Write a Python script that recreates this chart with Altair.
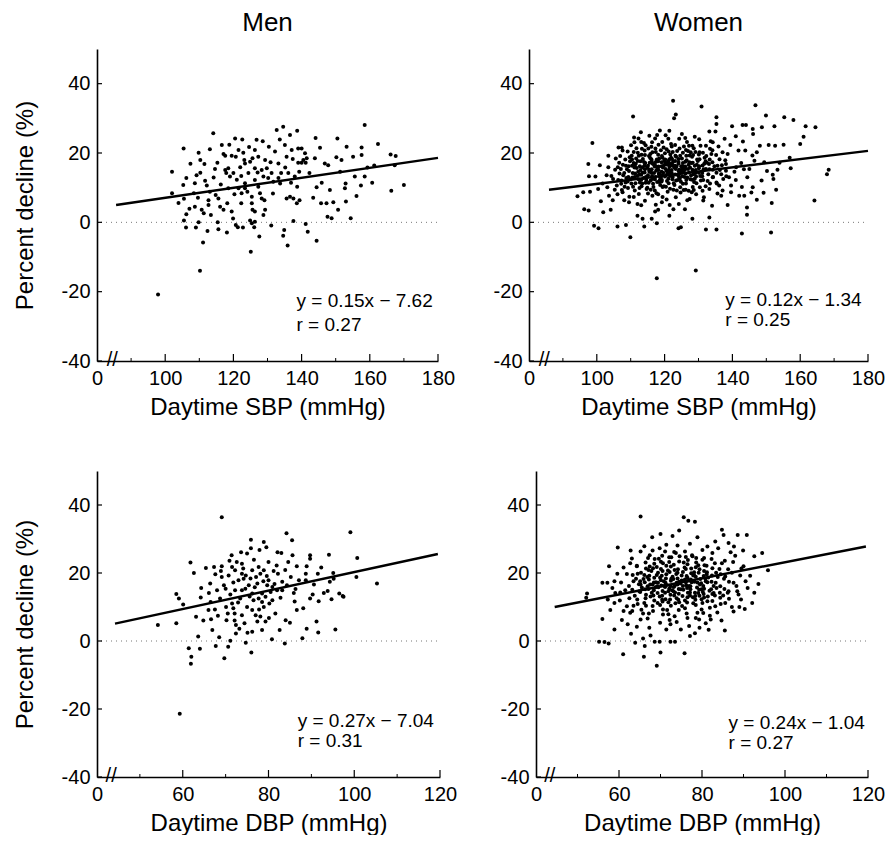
import altair as alt
import pandas as pd

FONT = "Liberation Sans"

# ---------------- data ----------------
men_sbp = [(97.9,-20.8),(110.2,-14.0),(102.0,14.6),(105.4,21.3),(102.0,8.4),(105.3,10.8),(106.2,12.8),(105.5,6.8),(106.2,2.3),(105.5,0.5),(106.1,-1.5),(109.0,-1.5),(109.8,20.1),(110.3,18.0),(111.5,16.8),(108.7,11.3),(108.4,8.4),(109.6,7.1),(108.7,4.5),(110.7,3.6),(111.3,2.6),(109.8,0.0),(111.1,-5.8),(112.4,-2.5),(109.2,13.6),(110.3,14.3),(111.7,12.0),(113.1,8.8),(114.1,25.7),(116.6,22.3),(117.1,19.7),(117.6,15.1),(114.2,12.9),(114.8,7.9),(113.4,2.1),(115.4,0.0),(115.6,-2.0),(116.1,4.5),(117.1,3.6),(118.2,5.5),(118.5,9.8),(119.0,13.2),(119.5,3.1),(120.5,24.2),(120.7,18.9),(121.5,20.9),(122.0,15.9),(122.3,13.4),(122.6,23.9),(123.2,18.0),(123.4,11.3),(124.1,8.8),(120.7,-0.8),(121.3,-1.4),(122.8,-1.5),(122.3,5.5),(124.9,0.5),(125.4,-0.3),(126.1,-1.4),(125.1,-8.5),(125.4,5.5),(125.6,3.6),(126.8,23.8),(126.3,20.9),(125.6,18.5),(126.3,15.6),(126.3,12.2),(127.3,10.3),(127.8,8.4),(128.3,6.9),(128.8,13.2),(129.3,18.0),(129.8,15.6),(130.4,21.8),(131.2,14.2),(131.7,11.7),(132.2,20.4),(132.7,26.6),(133.2,17.0),(134.0,14.2),(128.8,2.1),(129.1,6.4),(134.6,27.6),(135.1,22.3),(135.6,18.9),(136.1,14.2),(136.6,25.2),(137.1,20.9),(137.4,18.3),(138.0,13.2),(138.7,26.4),(138.7,10.3),(137.6,6.9),(138.6,5.5),(139.4,6.4),(135.6,6.9),(136.6,7.4),(134.9,-2.2),(134.6,-3.9),(135.9,-6.7),(137.6,0.4),(140.0,21.3),(141.0,19.9),(141.2,17.2),(140.0,17.2),(141.2,-0.5),(141.8,-2.7),(144.4,-5.3),(143.4,7.1),(144.4,10.1),(143.9,18.5),(145.4,21.5),(145.9,11.4),(145.7,5.5),(147.3,5.5),(147.6,1.6),(148.8,1.2),(149.3,5.8),(146.8,17.0),(147.8,16.5),(150.5,24.2),(150.2,18.8),(151.7,18.0),(150.7,3.6),(152.7,9.8),(152.9,11.2),(153.0,6.0),(153.2,21.8),(154.4,1.2),(155.1,18.9),(155.6,13.2),(157.6,21.6),(157.6,19.4),(157.4,10.6),(158.5,28.1),(158.5,13.2),(159.3,15.8),(160.7,11.4),(162.4,22.6),(166.1,19.6),(167.6,19.1),(167.3,16.5),(166.3,9.1),(170.0,10.8),(117.6,19.2),(119.5,19.2),(120.0,14.2),(121.0,12.3),(123.4,17.0),(124.4,14.2),(124.9,17.5),(127.3,18.9),(128.3,15.1),(130.2,12.8),(133.2,12.8),(133.7,11.2),(123.4,9.8),(122.4,8.4),(118.5,15.6),(112.7,6.4),(112.7,5.0),(115.6,6.9),(121.5,9.8),(139.0,21.3),(139.0,17.2),(140.5,18.0),(141.5,18.5),(117.9,14.2),(125.4,7.4),(129.3,3.6),(126.3,3.1),(126.3,0.2),
    (112.2,10.6),(114.6,15.4),(116.3,10.9),(118.8,22.4),(120.3,8.1),(122.9,20.1),(124.6,21.7),(127.1,14.4),(128.6,23.4),(130.9,17.3),(131.6,8.3),(133.6,23.9),(135.2,15.8),(136.9,11.4),(139.3,14.6),(142.3,14.2),(144.1,24.3),(115.3,17.2),(113.1,21.1),(107.4,16.9),(107.1,3.9),(103.9,5.6),(119.9,1.1),(118.1,-2.9),(131.1,-0.9),(127.6,-4.1),(148.3,9.3),(151.3,14.6),(156.1,7.6),(161.3,16.4)]

women_sbp = [(122.5,35.1),(130.9,33.4),(146.8,33.8),(110.7,30.5),(123.3,31.1),(122.8,30.0),(135.3,30.3),(135.3,28.4),(149.9,30.8),(155.3,30.3),(158.0,29.5),(161.6,27.7),(164.5,27.4),(152.4,27.7),(148.7,27.4),(146.0,26.9),(143.0,28.1),(144.0,28.1),(139.9,27.7),(135.0,26.2),(133.2,26.2),(141.0,24.8),(146.1,25.5),(161.0,24.7),(160.0,22.6),(150.7,22.3),(152.6,22.1),(98.7,22.9),(103.4,19.2),(97.5,16.8),(100.9,16.5),(97.7,13.3),(94.3,7.5),(96.0,8.7),(98.0,8.8),(96.3,3.8),(97.6,3.4),(99.2,-1.0),(100.5,-1.7),(101.2,6.1),(101.9,2.9),(104.1,3.6),(106.1,-1.2),(108.6,-0.8),(109.9,-4.3),(114.0,-1.2),(117.7,-0.3),(117.7,-16.1),(129.2,-13.9),(124.1,-1.7),(124.8,-1.4),(132.2,-2.1),(135.3,-2.1),(142.8,-3.2),(151.4,-2.9),(144.3,2.2),(144.3,4.3),(151.6,5.6),(164.2,6.3),(167.9,13.9),(168.4,15.2),(157.2,15.6),(153.3,15.2),(151.9,13.7),(152.1,12.5),(152.9,9.4),(149.2,8.5),(147.2,6.5),(143.5,7.7),(142.0,7.7),(138.6,5.0),(139.6,8.7),(141.0,12.2),(139.0,13.0),(137.3,12.5),(136.7,7.7),(134.0,4.8),(133.2,1.4),(131.4,6.3),(128.2,1.0),(128.0,8.7),(126.7,6.4),(126.0,3.8),(122.6,3.8),(121.5,5.0),(121.4,1.9),(119.2,5.8),(117.2,3.1),(116.2,1.0),(113.5,1.0),(112.0,1.9),(112.0,5.3),(109.5,5.8),(107.6,8.7),(105.3,9.4),(103.1,10.1),(104.8,12.5),(146.0,10.1),(146.5,17.8),(147.2,20.2),(143.8,20.7),(145.0,15.4),(144.4,13.0),(141.8,20.7),(138.6,19.7),(138.1,16.8),(135.6,16.3),(134.2,23.1),(132.2,22.1),(130.2,24.0),(128.2,22.1),(125.1,25.5),(121.4,26.4),(117.8,25.2),(115.5,25.0),(113.0,26.0),(111.0,24.5),(106.4,21.6),(107.6,20.7),(103.4,15.9),(138.1,14.9),(140.6,14.6),(136.1,10.6),(133.2,9.6),(134.2,13.0),(135.3,11.5),
    (106.3,12.2),(107.1,15.4),(108.4,18.1),(108.2,10.3),(109.3,13.1),(109.1,20.4),(110.2,11.2),(110.4,16.3),(110.1,22.2),(111.3,14.1),(111.6,18.4),(111.2,9.2),(112.3,12.4),(112.1,20.1),(112.7,16.2),(113.2,10.4),(113.4,14.3),(113.1,23.2),(114.3,17.1),(114.6,12.2),(114.2,19.4),(115.1,8.3),(115.4,15.2),(115.2,21.3),(116.3,13.4),(116.1,18.2),(116.6,11.1),(117.2,16.4),(117.4,20.3),(117.1,9.2),(118.3,14.1),(118.2,22.4),(118.6,12.3),(119.1,17.3),(119.4,10.2),(119.2,19.1),(120.3,15.4),(120.1,13.2),(120.6,21.1),(121.2,11.3),(121.4,18.2),(121.1,24.1),(122.3,16.3),(122.1,14.2),(122.6,9.4),(123.2,19.2),(123.4,12.1),(123.1,22.3),(124.3,15.2),(124.1,17.4),(124.6,10.1),(125.2,13.3),(125.4,20.1),(125.1,18.4),(126.3,11.2),(126.1,16.1),(126.6,23.2),(127.2,14.4),(127.4,19.3),(127.1,9.1),(128.3,17.2),(128.1,12.3),(128.6,21.4),(129.2,15.1),(129.4,11.3),(130.3,18.2),(130.1,14.3),(130.6,22.1),(131.2,16.4),(131.4,12.2),(132.3,19.1),(132.1,10.4),(133.2,15.3),(133.4,21.2),(134.3,13.1),(134.1,17.3),(135.2,19.4),(135.4,11.2),(136.3,15.1),(137.1,20.2),(138.2,13.3),(106.6,17.2),(107.4,9.3),(108.1,14.2),(109.6,7.4),(110.3,19.2),(111.1,23.1),(112.4,8.2),(113.6,18.3),(114.1,14.4),(115.3,11.4),(116.4,20.2),(116.2,15.3),(117.3,13.1),(118.4,18.4),(118.1,8.1),(119.3,23.2),(119.6,14.3),(120.2,18.1),(120.4,10.3),(121.3,15.2),(121.6,13.4),(122.4,20.3),(122.2,18.3),(123.3,15.4),(123.6,9.2),(124.2,13.2),(124.4,21.3),(125.3,16.2),(125.6,9.3),(126.2,14.1),(126.4,19.2),(127.3,17.3),(127.6,12.4),(128.2,15.2),(128.4,19.4),(129.3,13.2),(129.1,20.3),(130.2,16.2),(130.4,10.1),(131.3,20.1),(131.1,14.2),(132.2,15.4),(133.3,18.1),(134.2,15.2),(135.3,14.3),(136.2,18.2),(120.3,25.1),(117.2,24.2),(124.3,24.1),(113.3,21.2),(110.6,14.2),(108.6,16.3),(105.4,15.2),(104.3,13.4),(107.3,12.1),(115.6,17.2),(118.2,16.1),(121.2,20.4),(124.6,19.2),(127.2,22.1),(130.3,20.2),(116.3,23.1),(114.4,22.2),(119.2,12.2),(122.3,12.4),(125.4,11.1),(128.3,10.2),(111.4,11.3),(109.4,16.2),(126.2,9.4),(123.3,7.2),(119.4,7.3),(114.2,6.2),(117.4,5.1),(131.2,9.1),(133.4,11.2),(129.3,8.1),
    (107.8,13.6),(109.8,17.6),(111.8,15.7),(113.8,12.8),(115.8,19.7),(117.8,11.6),(119.8,16.5),(121.8,16.9),(123.8,13.7),(125.8,15.1),(127.8,13.5),(129.8,17.7),(131.8,18.6),(133.8,19.7),(112.9,17.6),(116.9,16.6),(120.9,17.2),(124.9,14.6),(128.9,16.3),(118.9,20.8),(122.9,10.8),(126.9,20.6),(114.9,10.0),(110.9,20.3),(106.9,19.1),(105.9,10.6),(136.9,16.5),(132.9,13.9),(135.9,21.9),(137.9,17.9),
    (108.5,11.5),(109.5,14.8),(110.5,12.9),(111.5,16.9),(112.5,13.7),(113.5,15.9),(114.5,13.1),(115.5,14.6),(116.5,16.9),(117.5,14.9),(118.5,13.3),(119.5,15.8),(120.5,16.7),(121.5,14.4),(122.5,17.5),(123.5,16.1),(124.5,12.6),(125.5,14.7),(126.5,17.9),(127.5,15.8),(128.5,13.9),(129.5,16.6),(130.5,13.4),(131.5,15.3),(132.5,17.2),(113.2,19.5),(115.7,18.6),(117.7,18.1),(119.7,21.6),(121.7,19.6),(123.7,20.6),(125.7,21.9),(127.7,20.2),(111.7,21.4),(109.7,18.8),(107.7,16.6),(106.7,14.1),(108.7,12.8),(110.7,10.3),(112.7,11.5),(114.7,9.6),(116.7,10.2),(118.7,10.8),(120.7,11.9),(122.7,11.3),(124.7,8.6),(126.7,12.9),(128.7,11.6),(130.7,12.1),(132.7,11.9),(134.7,16.2),(136.7,13.9),(116.4,7.7),(120.6,6.6),(113.1,4.9),(110.9,7.3),(127.4,6.7),(124.2,5.3),(118.1,3.6),(106.1,8.1),(104.7,6.4),(102.9,13.6),(101.7,11.2),(105.6,18.4),(107.4,21.6),(112.3,24.2),(118.6,26.5),(126.1,24.3),(128.9,24.7),(133.6,23.4),(139.4,22.3),(137.7,24.1),(142.6,17.1),(141.1,15.9),(143.4,15.3),(139.6,10.6),(137.1,9.2),(142.8,10.2),(145.6,8.6),(148.6,12.1),(149.4,17.3),(148.1,22.1),(155.1,22.4),(156.9,18.6),(153.9,17.2),(150.2,14.8),(145.9,19.3),(143.1,23.3),(114.1,16.4),(116.1,14.3),(118.1,17.6),(119.1,14.6),(121.1,16.8),(122.1,15.1),(123.1,13.8),(124.1,16.9),(126.1,15.4),(127.1,16.6),(129.1,14.2),(130.1,15.6),(115.1,13.6),(117.1,12.4),(119.1,11.8),(121.1,12.6),(123.1,17.7),(125.1,14.8),(111.1,15.8),(109.1,11.8),(113.1,12.3),(112.1,17.7),(114.1,20.7),(116.1,21.8),(118.1,19.5),(120.1,19.9),(122.1,21.9),(124.1,18.3),(126.1,17.5),(128.1,18.9),(130.1,19.6),(132.1,17.6),(134.1,20.8),(133.1,16.8),(131.1,13.3),(128.6,9.3),(120.9,8.8),(117.6,8.4),(112.6,9.9),(108.1,6.4),(135.6,8.3),(131.6,7.2),(100.4,9.6),(99.6,13.2),(103.6,7.7),
    (108.9,15.3),(109.9,12.4),(110.9,17.1),(111.9,13.4),(112.9,15.1),(113.9,17.4),(114.9,15.8),(115.9,12.1),(116.9,14.2),(117.9,15.6),(118.9,12.9),(119.9,17.8),(120.9,14.1),(121.9,18.6),(122.9,15.8),(123.9,12.2),(124.9,16.2),(125.9,13.1),(126.9,15.4),(127.9,17.1),(128.9,12.6),(113.4,11.2),(115.4,19.1),(117.4,17.4),(119.4,18.6),(121.4,16.1),(123.4,18.9),(125.4,17.1),(110.4,18.1),(112.4,19.2),(114.4,11.4),(116.4,12.6),(118.4,11.6),(120.4,13.6),(122.4,13.1),(124.4,14.1),(126.4,12.2),(128.4,14.6),(111.2,13.1),(119.8,10.4),(115.9,9.4),(121.6,9.7),(124.8,11.7),(117.3,21.3),(121.9,22.6),(113.9,22.9),(126.3,20.9),(129.6,18.1),(131.7,16.9),(109.2,9.9),(107.2,11.1),(106.2,15.9),(119.1,16.2),(118.2,15.1),(117.1,16.1),(116.2,17.6),(115.1,16.3),(114.2,15.3),(120.2,17.1),(121.1,17.6),(122.2,16.8),(123.1,16.3),(124.2,14.7),(125.2,15.6),(113.1,13.7),(112.2,14.6),(111.2,16.3),(119.3,13.6),(118.4,13.9),(120.6,14.8)]

men_dbp = [(69.1,36.4),(59.3,-21.4),(84.2,31.7),(99.1,32.0),(85.5,29.6),(75.9,29.8),(75.9,27.3),(79.5,27.6),(77.9,26.8),(73.6,26.1),(83.0,25.9),(85.6,25.2),(89.7,25.2),(89.7,24.2),(94.1,25.4),(100.7,24.4),(61.8,23.1),(62.6,20.0),(65.4,21.5),(67.3,21.8),(69.1,22.0),(71.5,21.8),(73.8,22.7),(80.0,23.2),(81.9,22.2),(84.6,23.2),(88.9,22.0),(86.6,22.0),(91.5,19.8),(95.1,20.0),(95.2,18.3),(94.3,17.4),(100.5,18.8),(105.3,16.9),(69.1,18.8),(70.7,19.3),(72.2,20.8),(74.7,19.3),(77.1,18.8),(78.1,19.8),(80.0,17.9),(83.2,17.4),(85.2,18.8),(66.4,16.9),(68.0,14.9),(70.0,15.4),(72.2,14.9),(73.8,14.9),(75.4,16.4),(76.2,14.0),(78.5,14.0),(80.5,14.4),(82.0,14.9),(85.9,14.1),(89.7,12.5),(91.7,11.7),(92.9,14.1),(93.8,14.7),(96.5,14.0),(97.5,13.0),(58.5,13.8),(59.1,12.5),(60.1,10.7),(64.2,12.8),(66.5,11.5),(67.5,9.3),(70.1,10.0),(71.5,11.0),(70.5,8.1),(72.1,8.1),(63.1,7.1),(64.8,6.0),(66.6,6.4),(70.2,6.1),(72.1,6.0),(73.8,7.6),(74.4,5.2),(77.0,7.6),(77.4,5.7),(78.9,10.0),(80.2,11.0),(81.6,8.1),(79.3,5.7),(84.0,6.1),(85.0,5.4),(86.6,9.1),(82.6,3.2),(78.5,3.2),(76.2,2.7),(75.1,2.4),(72.4,2.2),(54.2,4.7),(58.5,5.2),(91.2,5.7),(91.6,2.5),(95.6,3.4),(87.9,0.8),(83.8,-0.7),(80.8,0.5),(74.7,-0.5),(71.1,0.1),(70.6,-1.7),(68.5,1.1),(67.7,-1.5),(76.0,-3.4),(69.7,-5.1),(61.4,-2.1),(64.0,-2.3),(62.0,-4.6),(61.9,-6.7),(97.3,13.2),(90.3,13.7),(88.7,19.8),(88.7,17.9),(82.2,19.8),(73.0,17.9),(74.6,15.4),(76.5,12.0),(77.7,12.5),(79.3,13.0),(78.5,11.5),(80.9,15.9),(79.7,16.4),(77.4,16.9),(76.2,20.8),(77.7,21.8),(78.9,20.8),(73.4,12.5),(75.0,10.0),(76.2,9.1),(68.7,12.5),(66.0,9.1),(80.9,12.0),(83.2,14.9),(84.3,16.4),(87.1,17.9),(72.6,23.2),(75.0,25.7),(73.8,19.8),
    (71.8,17.2),(74.2,18.3),(76.8,15.8),(78.8,17.6),(81.4,16.8),(75.6,13.1),(72.9,11.3),(69.6,16.4),(67.6,19.6),(70.9,23.6),(79.6,19.1),(82.8,12.7),(74.1,21.3),(77.8,9.3),(71.1,13.7),(68.2,7.4),(80.1,6.8),(86.1,11.6),(76.6,23.9),(72.4,4.7),
    (64.3,15.6),(66.1,14.1),(68.9,20.6),(71.8,9.6),(73.2,3.6),(75.8,18.4),(78.1,7.2),(81.2,20.6),(83.9,20.9),(86.3,15.3),(88.1,9.6),(90.6,16.6),(92.3,21.6),(94.7,12.3),(82.1,26.1),(78.9,29.1),(71.4,25.2),(66.9,3.2),(63.6,1.3),(88.9,3.6)]

women_dbp = [(65.2,36.6),(75.6,36.4),(76.7,35.4),(78.3,35.1),(74.5,32.5),(70.0,31.5),(68.0,30.5),(72.9,30.9),(78.9,30.5),(84.8,32.7),(85.2,31.2),(88.6,31.2),(90.8,31.2),(83.2,29.3),(81.3,27.8),(87.7,27.8),(86.4,28.8),(59.7,27.5),(62.8,26.6),(65.2,26.3),(57.6,22.0),(56.0,17.1),(57.2,17.1),(58.9,17.6),(52.3,14.0),(52.1,12.7),(57.3,12.2),(58.9,11.2),(56.0,6.5),(58.9,3.4),(55.2,-0.2),(56.5,-0.3),(57.5,-0.7),(61.0,-3.9),(63.9,-0.5),(65.8,0.7),(66.2,-1.5),(66.0,-4.6),(68.6,-0.2),(69.8,-0.2),(70.0,-3.4),(69.1,-7.3),(72.4,-0.2),(73.5,-0.2),(75.8,-3.6),(77.1,1.5),(74.9,3.4),(71.4,3.4),(72.4,4.9),(67.3,3.9),(64.3,4.2),(62.1,4.9),(84.7,6.0),(85.5,3.1),(82.1,6.3),(80.9,5.2),(79.3,6.3),(78.9,8.3),(92.1,11.2),(89.0,10.0),(87.2,10.0),(85.6,11.2),(91.0,15.6),(91.6,19.2),(90.0,22.0),(92.6,24.9),(94.5,25.9),(95.9,20.8),(88.0,25.1),(84.8,22.9),(85.6,19.0),(87.6,17.1),(86.4,14.6),(88.8,13.7),(89.4,12.2),(84.4,12.7),(82.8,14.1),(81.3,11.7),(81.9,9.8),(79.9,9.3),(78.5,6.8),(76.5,6.8),(73.4,7.3),(70.6,7.8),(68.2,8.8),(65.8,8.1),(62.7,8.3),(61.1,8.8),(61.9,10.2),(63.5,10.4),(60.3,14.3),(59.1,14.1),(61.9,19.7),(62.7,22.9),(64.3,22.0),(67.0,24.4),(69.8,27.3),(71.4,28.3),(73.7,25.9),(75.9,26.3),(77.7,24.9),(80.5,24.4),(82.5,25.9),
    (63.2,15.1),(64.1,18.3),(64.4,12.2),(65.3,20.1),(65.1,14.4),(66.2,17.3),(66.4,23.1),(66.1,11.2),(67.3,19.2),(67.1,15.3),(67.6,13.1),(68.2,21.4),(68.4,17.2),(68.1,10.3),(69.3,14.1),(69.1,19.4),(69.6,24.2),(70.2,16.3),(70.4,12.1),(70.1,21.2),(71.3,18.4),(71.1,14.2),(71.6,9.1),(72.2,20.3),(72.4,16.1),(72.1,23.2),(73.3,13.4),(73.1,18.2),(73.6,11.1),(74.2,21.1),(74.4,15.3),(74.1,18.4),(75.3,13.2),(75.1,19.3),(75.6,23.1),(76.2,16.4),(76.4,11.3),(76.1,21.2),(77.3,18.1),(77.1,14.3),(77.6,25.2),(78.2,17.4),(78.4,12.1),(78.1,20.2),(79.3,15.1),(79.1,22.3),(79.6,18.2),(80.2,14.4),(80.4,19.1),(80.1,11.2),(81.3,17.3),(81.1,22.1),(82.2,15.2),(82.4,19.3),(83.3,17.1),(83.1,13.4),(84.2,21.2),(84.4,16.1),(85.3,18.3),(86.2,14.2),(62.4,16.2),(63.3,19.4),(65.4,9.2),(66.3,15.2),(68.3,13.4),(69.4,17.1),(70.3,19.2),(70.6,9.3),(71.4,22.1),(72.3,12.2),(72.6,18.3),(73.4,16.2),(73.2,22.4),(74.3,12.1),(75.4,16.2),(75.2,10.3),(76.3,19.1),(76.6,14.2),(77.4,21.3),(77.2,16.1),(78.3,14.2),(78.6,23.1),(79.4,13.3),(79.2,20.1),(80.3,16.2),(80.6,22.3),(81.4,13.1),(81.2,20.2),(82.3,17.4),(83.4,20.1),(84.3,14.2),(85.4,15.3),(87.2,20.1),(88.3,16.2),(64.3,22.1),(67.4,25.2),(70.4,25.1),(73.3,26.2),(74.4,9.1),(71.2,12.3),(69.3,11.2),(67.2,8.1),(72.2,6.2),(76.3,8.1),(65.2,6.3),(83.2,10.2),(80.3,8.2),(86.3,21.1),(89.2,19.3),(82.3,24.1),
    (64.8,16.7),(66.8,18.8),(68.8,15.8),(70.8,17.6),(72.8,14.9),(74.8,16.9),(76.8,17.8),(78.8,15.7),(80.8,18.4),(82.8,16.2),(67.8,20.6),(71.8,20.7),(75.8,21.6),(79.8,17.0),(69.8,13.1),(73.8,19.7),(77.8,12.9),(81.8,14.8),(83.8,18.8),(63.8,13.3),
    (63.5,17.6),(65.5,15.7),(66.5,13.6),(67.5,16.6),(68.5,18.6),(69.5,15.8),(70.5,14.7),(71.5,16.5),(72.5,17.7),(73.5,14.3),(74.5,17.4),(75.5,15.1),(76.5,18.6),(77.5,17.3),(78.5,18.9),(79.5,16.6),(80.5,15.4),(81.5,18.7),(82.5,13.8),(83.5,15.6),(64.5,19.8),(66.5,21.3),(68.5,22.7),(70.5,20.6),(72.5,21.9),(74.5,23.4),(76.5,22.6),(78.5,21.7),(80.5,20.6),(82.5,21.4),(84.5,19.6),(86.5,17.4),(85.5,23.6),(87.5,23.2),(89.5,21.3),(90.5,17.6),(88.5,14.6),(86.5,12.4),(84.5,10.9),(82.5,11.8),(80.5,12.8),(78.5,10.6),(76.5,12.9),(74.5,11.4),(72.5,10.4),(70.5,11.6),(68.5,11.9),(66.5,10.4),(64.5,10.9),(62.5,12.6),(61.5,14.9),(60.5,17.2),(60.2,11.9),(63.2,8.8),(66.9,6.6),(69.9,5.4),(73.9,5.6),(76.9,4.4),(79.4,3.9),(75.9,9.6),(71.9,7.9),(81.9,7.4),(83.7,8.4),(87.6,8.7),(90.3,9.4),(92.6,14.2),(93.6,16.8),(89.9,26.6),(86.9,26.1),(83.9,27.3),(80.1,26.8),(77.1,28.6),(74.1,28.1),(71.1,26.3),(68.1,26.6),(66.1,27.9),(63.1,24.3),(61.1,21.6),(59.6,19.8),(58.4,15.6),(57.9,9.1),(60.7,6.2),(62.9,2.1),(67.6,1.6),(78.3,2.3),(81.6,3.3),(73.1,14.6),(75.1,17.8),(77.1,13.4),(79.1,14.1),(71.1,15.9),(69.1,21.8),(67.1,20.9),(65.1,17.6),(81.1,19.6),(83.1,22.9),(85.1,13.4),(76.1,24.7),(72.1,24.6),(70.1,23.3),(74.1,20.1),(78.1,19.4),(80.1,23.9),
    (64.9,14.6),(65.9,18.2),(66.9,16.1),(67.9,14.2),(68.9,17.3),(69.9,18.6),(70.9,16.2),(71.9,14.6),(72.9,18.9),(73.9,17.1),(74.9,15.2),(75.9,18.1),(76.9,16.2),(77.9,19.3),(78.9,17.2),(79.9,15.2),(80.9,17.6),(67.4,21.9),(69.4,20.1),(71.4,19.6),(73.4,20.9),(75.4,20.3),(77.4,19.9),(79.4,21.1),(66.4,12.6),(68.4,14.9),(70.4,13.3),(72.4,13.6),(74.4,13.9),(76.4,15.6),(78.4,13.2),(80.4,13.8),(70.1,17.9),(71.2,17.1),(72.1,15.4),(73.2,15.9),(74.1,16.6),(75.2,17.6),(76.1,17.3),(77.2,15.2),(69.2,16.1),(68.1,16.6),(67.2,18.1),(66.1,19.4),(65.2,16.6),(73.9,12.6),(71.9,11.4),(69.9,10.6),(75.9,11.9),(77.9,11.1),(79.9,12.3),(72.6,24.6),(74.6,24.9),(70.6,22.9),(76.6,23.8),(78.6,24.4),(68.6,24.1)]

fit_men_sbp = [(85.6, 5.0), (180.0, 18.6)]
fit_women_sbp = [(85.9, 9.4), (180.0, 20.6)]
fit_men_dbp = [(44.2, 5.1), (119.5, 25.6)]
fit_women_dbp = [(44.5, 10.0), (119.5, 27.8)]

sbp_major = [100, 120, 140, 160, 180]
sbp_minor = [90, 110, 130, 150, 170]
dbp_major = [60, 80, 100, 120]
dbp_minor = [50, 70, 90, 110]
y_major = [-40, -20, 0, 20, 40]

eq_men_sbp = ["y = 0.15x − 7.62", "r = 0.27"]
eq_women_sbp = ["y = 0.12x − 1.34", "r = 0.25"]
eq_men_dbp = ["y = 0.27x − 7.04", "r = 0.31"]
eq_women_dbp = ["y = 0.24x − 1.04", "r = 0.27"]

Y_TITLE = "Percent decline (%)"


def panel(points, fit, xmin, xmax, major, minor, eq, eq_x, eq_y, brk_x,
          w, h, xtitle, ytitle=None, title=None):
    xs = alt.Scale(domain=[xmin, xmax], nice=False, zero=False)
    ys = alt.Scale(domain=[-40, 50], nice=False, zero=False)
    xaxis = alt.Axis(values=[xmin] + major, labelExpr=f"datum.value == {xmin} ? '0' : datum.label",
                     ticks=False, tickSize=0, grid=False, labelFontSize=20, titleFontSize=24,
                     labelFont=FONT, titleFont=FONT, titleFontWeight="normal", labelColor="black",
                     titleColor="black", domainColor="black", domainWidth=1.6, labelPadding=7,
                     titlePadding=7, labelFlush=False, labelOverlap=False, labelBound=False)
    yaxis = alt.Axis(values=y_major, labelExpr="'' + datum.value", ticks=False, tickSize=0,
                     grid=False, labelFontSize=20, titleFontSize=24, labelFont=FONT, titleFont=FONT,
                     titleFontWeight="normal", labelColor="black", titleColor="black",
                     domainColor="black", domainWidth=1.6, labelPadding=7, titlePadding=24,
                     labelFlush=False, labelOverlap=False, labelBound=False)

    def X(f):
        return alt.X(f, type="quantitative", scale=xs, axis=xaxis, title=xtitle)

    def Y(f):
        return alt.Y(f, type="quantitative", scale=ys, axis=yaxis, title=ytitle)

    pts = pd.DataFrame(points, columns=["x", "y"])
    fdf = pd.DataFrame(fit, columns=["x", "y"])

    zero = alt.Chart(pd.DataFrame({"y": [0]})).mark_rule(
        color="#777", strokeDash=[1, 4], strokeWidth=1).encode(
        y=Y("y"), x=alt.value(4), x2=alt.value(w))
    dots = alt.Chart(pts).mark_circle(size=16, color="black", opacity=1).encode(x=X("x"), y=Y("y"))
    line = alt.Chart(fdf).mark_line(color="black", strokeWidth=2.4).encode(x=X("x"), y=Y("y"))
    xt_major = alt.Chart(pd.DataFrame({"t": major})).mark_rule(color="black", strokeWidth=1.2).encode(
        x=X("t"), y=alt.value(h), y2=alt.value(h - 7))
    xt_minor = alt.Chart(pd.DataFrame({"t": minor})).mark_rule(color="black", strokeWidth=1).encode(
        x=X("t"), y=alt.value(h), y2=alt.value(h - 3))
    yt = alt.Chart(pd.DataFrame({"t": y_major})).mark_rule(color="black", strokeWidth=1.2).encode(
        y=Y("t"), x=alt.value(0), x2=alt.value(5))
    brk = alt.Chart(pd.DataFrame({"x": [brk_x], "y": [-40], "s": ["//"]})).mark_text(
        font=FONT, fontSize=20, color="black", align="center", baseline="middle", dy=-1).encode(
        x=X("x"), y=Y("y"), text="s:N")
    edf = pd.DataFrame({"x": [eq_x, eq_x], "y": eq_y, "s": eq})
    txt = alt.Chart(edf).mark_text(font=FONT, fontSize=19, color="black", align="left",
                                   baseline="alphabetic").encode(x=X("x"), y=Y("y"), text="s:N")
    props = dict(width=w, height=h)
    if title is not None:
        props["title"] = alt.TitleParams(title, font=FONT, fontSize=26, fontWeight="normal",
                                         color="black", anchor="middle", offset=13)
    return alt.layer(zero, xt_major, xt_minor, yt, brk, dots, line, txt).properties(**props)


p1 = panel(men_sbp, fit_men_sbp, 80, 180, sbp_major, sbp_minor, eq_men_sbp, 138.5, [-24.5, -31.3],
           84.5, 341, 312, "Daytime SBP (mmHg)", Y_TITLE, "Men")
p2 = panel(women_sbp, fit_women_sbp, 80, 180, sbp_major, sbp_minor, eq_women_sbp, 137.9, [-24.0, -29.9],
           84.5, 339, 312, "Daytime SBP (mmHg)", None, "Women")
p3 = panel(men_dbp, fit_men_dbp, 40, 120, dbp_major, dbp_minor, eq_men_dbp, 86.8, [-25.4, -31.3],
           43.3, 343, 306, "Daytime DBP (mmHg)", Y_TITLE, None)
p4 = panel(women_dbp, fit_women_dbp, 40, 120, dbp_major, dbp_minor, eq_women_dbp, 86.4, [-26.0, -31.9],
           43.3, 332, 306, "Daytime DBP (mmHg)", None, None)

top = alt.hconcat(p1, p2, spacing=38)
bottom = alt.hconcat(p3, p4, spacing=43)
chart = alt.vconcat(top, bottom, spacing=52).configure_view(stroke=None).properties(
    padding={"left": 5, "top": 2, "right": 0, "bottom": 0})

chart.save("out.html", embed_options={"renderer": "svg", "actions": False})
